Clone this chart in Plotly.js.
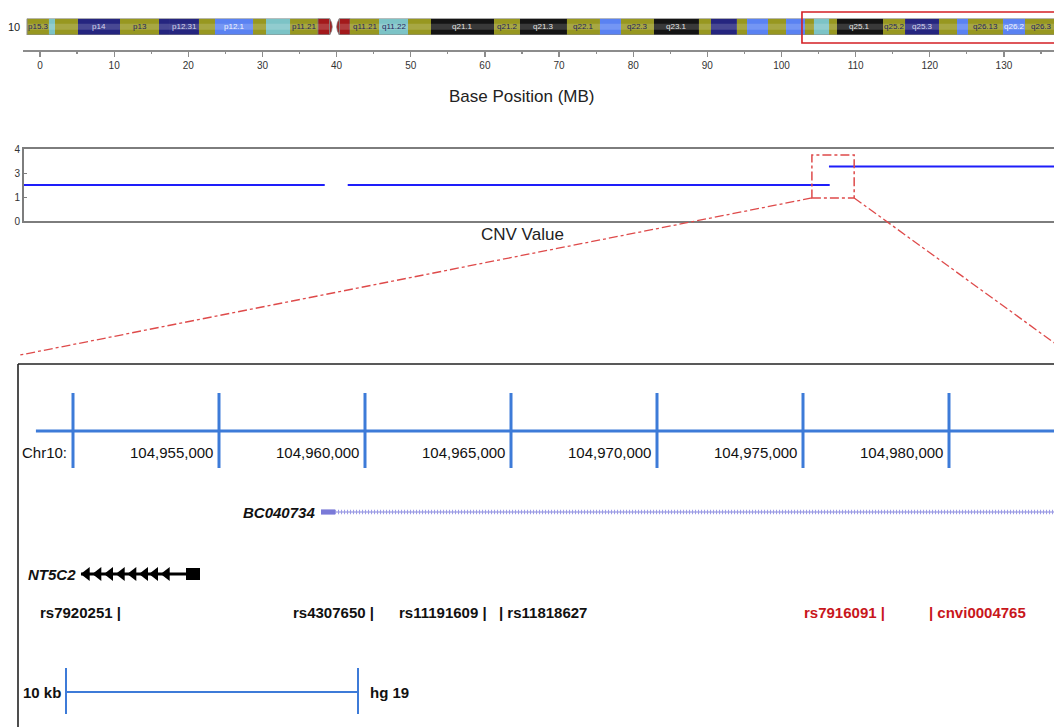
<!DOCTYPE html>
<html><head><meta charset="utf-8">
<script src="https://cdn.plot.ly/plotly-3.0.1.min.js"></script>
<style>html,body{margin:0;padding:0;background:#fff}#chart{width:1054px;height:727px}</style>
</head><body><div id="chart"></div>
<script>
// ================= DATA =================
// Chromosome 10 ideogram bands (MB)
const chromName = "10";
const bandStart = [-1.75,1.21,2.02,5.12,10.79,16.05,17.40,21.44,23.60,28.73,30.48,33.72,37.49,39.92,41.81,45.72,49.63,52.73,61.23,64.73,71.07,75.52,78.35,82.80,88.87,90.49,93.99,95.35,98.18,100.61,103.17,104.38,106.41,107.48,113.69,116.66,121.24,123.67,125.15,129.87,132.84];
const bandEnd   = [1.21,2.02,5.12,10.79,16.05,17.40,21.44,23.60,28.73,30.48,33.72,37.49,39.51,41.81,45.72,49.63,52.73,61.23,64.73,71.07,75.52,78.35,82.80,88.87,90.49,93.99,95.35,98.18,100.61,103.17,104.38,106.41,107.48,113.69,116.66,121.24,123.67,125.15,129.87,132.84,137.3];
const bandStain = ["olive","cyan","olive","navy","olive","navy","navy","olive","blue","olive","cyan","olive","acenP","acenQ","olive","cyan","olive","black","olive","black","olive","blue","olive","black","olive","navy","olive","blue","olive","blue","olive","cyan","olive","black","olive","navy","olive","blue","olive","blue","olive"];
const bandLabel = ["p15.3","","","p14","p13","","p12.31","","p12.1","","","p11.21","","","q11.21","q11.22","","q21.1","q21.2","q21.3","q22.1","","q22.3","q23.1","","","","","","","","","","q25.1","q25.2","q25.3","","","q26.13","q26.2","q26.3"];

// Base position axis (MB)
const mbTicks = [0,10,20,30,40,50,60,70,80,90,100,110,120,130];
const mbTickText = mbTicks.map(String);
const mbMinorTicks = [5,15,25,35,45,55,65,75,85,95,105,115,125,135];
const highlightRegionMB = [102.76, 140];

// CNV track (value in axis units; tick labels as printed)
const cnvSegStart = [-2.2, 41.5, 106.4];
const cnvSegEnd   = [38.4, 106.5, 140];
const cnvSegValue = [1.5, 1.5, 2.27];
const cnvTickVals = [0, 1, 2, 3];
const cnvTickText = ["0", "1", "3", "4"];
const zoomBoxMB  = [104.1, 109.8];
const zoomBoxCNV = [0.96, 2.75];

// Zoomed region (hg19, chr10 bp)
const rulerTicks  = [104950000,104955000,104960000,104965000,104970000,104975000,104980000];
const rulerLabels = ["Chr10:","104,955,000","104,960,000","104,965,000","104,970,000","104,975,000","104,980,000"];
const rulerStart = 104948730, rulerEnd = 104995000;

const bcName = "BC040734";
const bcTxStart = 104958494, bcThickEnd = 104958974, bcTxEnd = 104995000;

const ntName = "NT5C2";
const ntStart = 104950274;
const ntArrowPos = [104950469,104950867,104951267,104951668,104952065,104952466,104952809,104953209];
const ntBlockStart = 104953870, ntBlockEnd = 104954350;

const snpNames = ["rs7920251","rs4307650","rs11191609","rs11818627","rs7916091","cnvi0004765"];
const snpPos   = [104951700,104960360,104964230,104964520,104977860,104979250];
const snpSide  = ["left","left","left","right","left","right"];
const snpColor = ["#111111","#111111","#111111","#111111","#c8161b","#c8161b"];

const scaleStart = 104949760, scaleLenBp = 10000;
const scaleLabel = "10 kb", buildLabel = "hg 19";

// ================= LAYOUT HELPERS =================
const W = 1054, H = 727;
const px = p => p / W;
const py = p => 1 - p / H;
const FONT = 'Arial, "Liberation Sans", sans-serif';
const stainColor = {olive:"#979720", cyan:"#7cc3c6", navy:"#25257f", blue:"#5a82f2", black:"#141414", acenP:"#a3191b", acenQ:"#a3191b"};
const stainText  = {olive:"#25255e", cyan:"#25255e", navy:"#d6d6ee", blue:"#f2f4ff", black:"#e4e4e4"};

// lanes of the zoomed panel (y3 is in page rows)
const lane = {ruler: 431, rulerLabel: 452.5, bc: 512, nt: 574, snp: 612, scale: 692};

const shapes = [];
const annotations = [];

// Ideogram bands
for (let i = 0; i < bandStart.length; i++) {
  const s = bandStain[i];
  if (s === "acenP") {
    const a = bandStart[i], b = bandEnd[i], m = b - 0.45;
    shapes.push({type:"path", xref:"x", yref:"y", path:`M${a},0 L${m},0 Q${b+0.25},0.5 ${m},1 L${a},1 Z`, fillcolor:stainColor[s], line:{width:0.8,color:"#777"}});
  } else if (s === "acenQ") {
    const a = bandStart[i], b = bandEnd[i], m = a + 0.45;
    shapes.push({type:"path", xref:"x", yref:"y", path:`M${b},0 L${m},0 Q${a-0.25},0.5 ${m},1 L${b},1 Z`, fillcolor:stainColor[s], line:{width:0.8,color:"#777"}});
  } else {
    shapes.push({type:"rect", xref:"x", yref:"y", x0:bandStart[i], x1:bandEnd[i], y0:0, y1:1, fillcolor:stainColor[s], line:{width:0}});
  }
  if (bandLabel[i]) {
    annotations.push({xref:"x", yref:"y", x:(bandStart[i]+bandEnd[i])/2, y:0.5, text:bandLabel[i], showarrow:false,
      font:{family:FONT, size:8, color:stainText[s]}, xanchor:"center", yanchor:"middle"});
  }
}
// glossy highlight + arm outlines
const pEnd = bandEnd[bandStain.indexOf("acenP")] - 0.45;
const qStart = bandStart[bandStain.indexOf("acenQ")] + 0.45;
const chrEnd = bandEnd[bandEnd.length-1];
shapes.push({type:"rect", xref:"x", yref:"y", x0:bandStart[0], x1:pEnd, y0:0.32, y1:0.68, fillcolor:"rgba(255,255,255,0.16)", line:{width:0}});
shapes.push({type:"rect", xref:"x", yref:"y", x0:qStart, x1:chrEnd, y0:0.32, y1:0.68, fillcolor:"rgba(255,255,255,0.16)", line:{width:0}});
shapes.push({type:"rect", xref:"x", yref:"y", x0:bandStart[0], x1:pEnd, y0:0, y1:1, line:{width:1,color:"#8a8a8a"}});
shapes.push({type:"rect", xref:"x", yref:"y", x0:qStart, x1:chrEnd, y0:0, y1:1, line:{width:1,color:"#8a8a8a"}});

// red highlight on the ideogram
shapes.push({type:"rect", xref:"x", yref:"paper", x0:highlightRegionMB[0], x1:highlightRegionMB[1], y0:py(43), y1:py(12), line:{color:"#d41f24", width:1.6}});

annotations.push({xref:"paper", yref:"y", x:px(22), y:0.5, text:chromName, showarrow:false, xanchor:"right", yanchor:"middle", font:{family:FONT, size:11, color:"#222"}});
annotations.push({xref:"paper", yref:"paper", x:px(522), y:py(97), text:"Base Position (MB)", showarrow:false, xanchor:"center", yanchor:"middle", font:{family:FONT, size:17, color:"#222"}});

// CNV panel
const x2dom = [px(24), 1], x2rng = [(24-40)/7.415, (W-40)/7.415];
const y2dom = [py(221), py(149)], y2rng = [0, 3];
shapes.push({type:"rect", xref:"x2", yref:"y2", x0:zoomBoxMB[0], x1:zoomBoxMB[1], y0:zoomBoxCNV[0], y1:zoomBoxCNV[1], line:{color:"#de4a4a", width:1.5, dash:"dashdot"}});
const mb2paper = v => x2dom[0] + (v - x2rng[0])/(x2rng[1]-x2rng[0])*(x2dom[1]-x2dom[0]);
const cnv2paper = v => y2dom[0] + (v - y2rng[0])/(y2rng[1]-y2rng[0])*(y2dom[1]-y2dom[0]);
shapes.push({type:"line", xref:"paper", yref:"paper", x0:mb2paper(zoomBoxMB[0]), y0:cnv2paper(zoomBoxCNV[0]), x1:px(20), y1:py(355), line:{color:"#de4a4a", width:1.3, dash:"dashdot"}});
shapes.push({type:"line", xref:"paper", yref:"paper", x0:mb2paper(zoomBoxMB[1]), y0:cnv2paper(zoomBoxCNV[0]), x1:px(1060), y1:py(347), line:{color:"#de4a4a", width:1.3, dash:"dashdot"}});
annotations.push({xref:"paper", yref:"paper", x:px(522), y:py(234), text:"CNV Value", showarrow:false, xanchor:"center", yanchor:"middle", font:{family:FONT, size:17, color:"#222"}});

// Lower panel frame
shapes.push({type:"line", xref:"paper", yref:"paper", x0:px(18), y0:py(364), x1:1, y1:py(364), line:{color:"#222", width:1.6}});
shapes.push({type:"line", xref:"paper", yref:"paper", x0:px(18), y0:py(364), x1:px(18), y1:0, line:{color:"#222", width:1.6}});

// Ruler
const RULER = "#3d7bd8";
shapes.push({type:"line", xref:"x3", yref:"y3", x0:rulerStart, x1:rulerEnd, y0:lane.ruler, y1:lane.ruler, line:{color:RULER, width:3}});
rulerTicks.forEach((t, i) => {
  shapes.push({type:"line", xref:"x3", yref:"y3", x0:t, x1:t, y0:lane.ruler-38, y1:lane.ruler+37, line:{color:RULER, width:3}});
  annotations.push({xref:"x3", yref:"y3", x:t, y:lane.rulerLabel, xshift:-4, text:rulerLabels[i], showarrow:false, xanchor:"right", yanchor:"middle", font:{family:FONT, size:15, color:"#111"}});
});

// BC040734 thick part
shapes.push({type:"rect", xref:"x3", yref:"y3", x0:bcTxStart, x1:bcThickEnd, y0:lane.bc-2.6, y1:lane.bc+2.6, fillcolor:"#7a7ad8", line:{width:0}});
annotations.push({xref:"x3", yref:"y3", x:bcTxStart, y:lane.bc, xshift:-4, text:"<b><i>"+bcName+"</i></b>", showarrow:false, xanchor:"right", yanchor:"middle", font:{family:FONT, size:15, color:"#111"}});

// NT5C2 block
shapes.push({type:"rect", xref:"x3", yref:"y3", x0:ntBlockStart, x1:ntBlockEnd, y0:lane.nt-6, y1:lane.nt+6, fillcolor:"#000", line:{width:0}});
annotations.push({xref:"x3", yref:"y3", x:ntStart, y:lane.nt, xshift:-3, text:"<b><i>"+ntName+"</i></b>", showarrow:false, xanchor:"right", yanchor:"middle", font:{family:FONT, size:15, color:"#111"}});

// SNP labels
snpNames.forEach((n, i) => {
  const left = snpSide[i] === "left";
  annotations.push({xref:"x3", yref:"y3", x:snpPos[i], y:lane.snp, text:"<b>"+(left ? n+" |" : "| "+n)+"</b>", showarrow:false,
    xanchor: left ? "right" : "left", yanchor:"middle", font:{family:FONT, size:15, color:snpColor[i]}});
});

// Scale bar
const scaleEnd = scaleStart + scaleLenBp;
shapes.push({type:"line", xref:"x3", yref:"y3", x0:scaleStart, x1:scaleEnd, y0:lane.scale, y1:lane.scale, line:{color:RULER, width:2}});
[scaleStart, scaleEnd].forEach(v => shapes.push({type:"line", xref:"x3", yref:"y3", x0:v, x1:v, y0:lane.scale-24, y1:lane.scale+22, line:{color:RULER, width:2}}));
annotations.push({xref:"x3", yref:"y3", x:scaleStart, y:lane.scale, xshift:-3, text:"<b>"+scaleLabel+"</b>", showarrow:false, xanchor:"right", yanchor:"middle", font:{family:FONT, size:15, color:"#111"}});
annotations.push({xref:"x3", yref:"y3", x:scaleEnd, y:lane.scale, xshift:10, text:"<b>"+buildLabel+"</b>", showarrow:false, xanchor:"left", yanchor:"middle", font:{family:FONT, size:15, color:"#111"}});

// ================= TRACES =================
const cnvX = [], cnvY = [];
cnvSegStart.forEach((s, i) => { cnvX.push(s, cnvSegEnd[i], null); cnvY.push(cnvSegValue[i], cnvSegValue[i], null); });

const traces = [
  {type:"scatter", mode:"lines", x:cnvX, y:cnvY, xaxis:"x2", yaxis:"y2", line:{color:"#1e1efa", width:2.2}, hoverinfo:"skip", showlegend:false},
  {type:"scatter", mode:"lines", x:[bcThickEnd, bcTxEnd], y:[lane.bc, lane.bc], xaxis:"x3", yaxis:"y3", line:{color:"#8585dc", width:1.2}, hoverinfo:"skip", showlegend:false},
  {type:"scatter", mode:"lines", x:[bcThickEnd, bcTxEnd], y:[lane.bc, lane.bc], xaxis:"x3", yaxis:"y3", line:{color:"#9a9ae6", width:4.5, dash:"1px,2px"}, hoverinfo:"skip", showlegend:false},
  {type:"scatter", mode:"lines", x:[ntStart, ntBlockStart], y:[lane.nt, lane.nt], xaxis:"x3", yaxis:"y3", line:{color:"#000", width:3}, hoverinfo:"skip", showlegend:false},
  {type:"scatter", mode:"markers", x:ntArrowPos, y:ntArrowPos.map(() => lane.nt), xaxis:"x3", yaxis:"y3", marker:{symbol:"triangle-left", size:12, color:"#000", line:{width:0}}, hoverinfo:"skip", showlegend:false}
];

const layout = {
  width: W, height: H, autosize: false,
  margin: {l:0, r:0, t:0, b:0, pad:0},
  paper_bgcolor: "#fff", plot_bgcolor: "rgba(0,0,0,0)",
  showlegend: false,
  font: {family: FONT},
  xaxis: {domain:[px(23), 1], range:[(23-40)/7.415, (W-40)/7.415], anchor:"free", position:py(51),
    showline:true, linecolor:"#8c8c8c", linewidth:2, ticks:"outside", ticklen:5, tickwidth:1.2, tickcolor:"#8c8c8c",
    tickmode:"array", tickvals:mbTicks, ticktext:mbTickText, tickfont:{family:FONT, size:10, color:"#333"},
    minor:{tickmode:"array", tickvals:mbMinorTicks, ticks:"outside", ticklen:2, tickcolor:"#8c8c8c", showgrid:false},
    showgrid:false, zeroline:false, fixedrange:true},
  yaxis: {domain:[py(35), py(18.5)], range:[0,1], visible:false, fixedrange:true, anchor:"x"},
  xaxis2: {domain:x2dom, range:x2rng, anchor:"y2", showline:true, mirror:true, linecolor:"#7d7d7d", linewidth:2,
    showticklabels:false, ticks:"", showgrid:false, zeroline:false, fixedrange:true},
  yaxis2: {domain:y2dom, range:y2rng, anchor:"x2", showline:true, linecolor:"#7d7d7d", linewidth:2,
    tickmode:"array", tickvals:cnvTickVals, ticktext:cnvTickText, ticks:"inside", ticklen:3, tickcolor:"#7d7d7d",
    tickfont:{family:FONT, size:10, color:"#333"}, showgrid:false, zeroline:false, fixedrange:true},
  xaxis3: {domain:[0,1], range:[104947500, 104947500 + W*5000/146], anchor:"y3", visible:false, fixedrange:true},
  yaxis3: {domain:[0, py(364)], range:[H, 364], anchor:"x3", visible:false, fixedrange:true},
  shapes: shapes,
  annotations: annotations
};

Plotly.newPlot("chart", traces, layout, {staticPlot:true, displayModeBar:false});
</script>
</body></html>
